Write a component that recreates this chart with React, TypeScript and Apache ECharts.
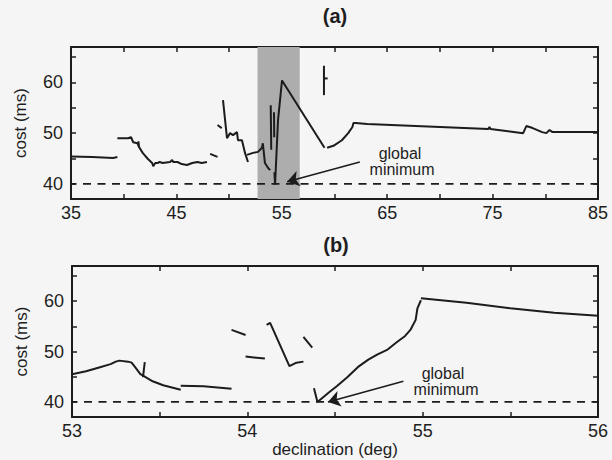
import React, { useEffect, useRef } from "react";
import * as echarts from "echarts";

// ---------- data ----------
// panel (a): declination 35..85
const aXTicks = [35, 40, 45, 50, 55, 60, 65, 70, 75, 80, 85];
const aXLabels = [35, 45, 55, 65, 75, 85];
const yTicks = [40, 45, 50, 55, 60, 65];
const yLabels = [40, 50, 60];
const aShade = [52.7, 56.7];
const aSeg1 = [[35.0, 45.4], [37.0, 45.3], [39.0, 45.1], [39.4, 45.3]];
const aSeg2 = [[39.4, 49.0], [40.4, 49.0], [40.7, 49.2], [40.9, 48.2], [41.3, 48.0], [41.5, 47.1], [41.8, 46.1], [42.3, 44.9], [42.7, 44.1], [42.8, 43.5], [43.0, 44.1], [43.2, 44.1], [43.4, 44.3], [43.7, 44.1], [44.4, 44.3], [44.6, 44.7], [44.7, 44.3], [45.1, 44.3], [45.5, 43.9], [46.0, 43.7], [46.5, 44.1], [47.0, 44.3], [47.4, 44.1], [47.9, 44.3]];
const aSeg2b = [[41.4, 48.4], [41.45, 47.2]];
const aSeg3 = [[48.2, 45.9], [48.9, 45.3]];
const aSeg4 = [[48.9, 51.6], [49.3, 51.0]];
const aSeg5 = [[49.42, 56.5], [49.8, 49.0], [50.09, 50.0], [50.37, 49.6], [50.75, 50.2], [50.84, 48.6], [51.22, 48.6], [51.51, 46.1], [51.79, 44.3]];
const aSeg6 = [[51.7, 45.7], [52.27, 46.1], [52.74, 46.3], [53.12, 47.1], [53.2, 48.0], [53.4, 44.1], [53.7, 43.1], [53.9, 42.7]];
const aSeg7 = [[53.95, 55.5], [54.0, 46.7]];
const aSeg8 = [[54.26, 54.1], [54.28, 49.2]];
const aSeg9 = [[54.3, 42.3], [54.36, 39.8], [54.64, 52.5], [55.02, 60.4], [58.9, 47.6], [59.05, 47.1]];
const aSeg10 = [[59.0, 63.3], [59.0, 57.5]];
const aSeg10b = [[59.0, 60.8], [59.35, 60.8]];
const aSeg11 = [[59.3, 47.1], [59.9, 47.5], [60.7, 48.6], [61.3, 50.0], [61.7, 51.2], [61.8, 52.0], [62.0, 52.0], [63.1, 51.8], [74.6, 50.8], [74.7, 51.2], [74.8, 50.8], [77.9, 50.0], [78.2, 51.4], [78.8, 51.0], [79.7, 50.2], [80.1, 50.0], [80.4, 50.6], [80.7, 50.2], [85.0, 50.2]];
const aMinimum = 40;
const aArrow = [[62.4, 44.3], [55.5, 40.4]];

// panel (b): declination 53..56
const bXTicks = [53, 53.5, 54, 54.5, 55, 55.5, 56];
const bXLabels = [53, 54, 55, 56];
const bSeg1 = [[53.0, 45.5], [53.08, 46.1], [53.16, 46.9], [53.22, 47.5], [53.25, 48.0], [53.27, 48.2], [53.32, 48.0], [53.34, 47.8], [53.36, 46.9], [53.39, 45.5], [53.41, 45.1], [53.46, 44.1], [53.52, 43.3], [53.62, 42.4]];
const bSeg1b = [[53.405, 44.9], [53.415, 47.9]];
const bSeg2 = [[53.62, 43.2], [53.75, 43.1], [53.91, 42.6]];
const bSeg3 = [[53.91, 54.3], [53.99, 53.3]];
const bSeg4 = [[53.99, 49.0], [54.10, 48.6]];
const bSeg5 = [[54.11, 55.3], [54.13, 55.7], [54.24, 47.1], [54.28, 47.8], [54.32, 48.0]];
const bSeg6 = [[54.32, 52.9], [54.37, 50.8]];
const bSeg7 = [[54.38, 42.7], [54.40, 40.0], [54.47, 42.0], [54.51, 43.1], [54.57, 44.9], [54.63, 46.9], [54.69, 48.4], [54.74, 49.4], [54.80, 50.4], [54.85, 51.8], [54.90, 53.1], [54.93, 54.3], [54.96, 56.3], [54.97, 58.6], [54.99, 60.2]];
const bSeg8 = [[54.99, 60.6], [55.25, 59.7], [55.5, 58.6], [55.75, 57.7], [56.0, 57.1]];
const bMinimum = 40;
const bArrow = [[54.89, 44.1], [54.46, 40.0]];

const INK = "#1c1c1c";
const TXT = "#1e1e1e";
const FONT = "Liberation Sans";

function seg(data: number[][], k: number): any {
  return {
    type: "line",
    data,
    xAxisIndex: k * 2,
    yAxisIndex: k * 2,
    symbol: "none",
    showSymbol: false,
    silent: true,
    z: 3,
    lineStyle: { color: INK, width: 2 },
  };
}

function xAxes(min: number, max: number, ticks: number[], labels: number[], grid: number, withName: boolean): any[] {
  const common = {
    type: "value",
    gridIndex: grid,
    min,
    max,
    splitLine: { show: false },
    axisLine: { show: true, lineStyle: { color: INK, width: 2 } },
    axisTick: { show: true, inside: true, length: 5, customValues: ticks, lineStyle: { color: INK, width: 1.5 } },
  };
  return [
    {
      ...common,
      position: "bottom",
      axisLabel: { show: true, customValues: labels, margin: 5, color: TXT, fontSize: 18, fontFamily: FONT },
      ...(withName
        ? {
            name: "declination (deg)",
            nameLocation: "middle",
            nameGap: 24,
            nameTextStyle: { color: TXT, fontSize: 17, fontFamily: FONT },
          }
        : {}),
    },
    { ...common, position: "top", axisLabel: { show: false } },
  ];
}

function yAxes(grid: number): any[] {
  const common = {
    type: "value",
    gridIndex: grid,
    min: 37,
    max: 67,
    splitLine: { show: false },
    axisLine: { show: true, lineStyle: { color: INK, width: 2 } },
    axisTick: { show: true, inside: true, length: 5, customValues: yTicks, lineStyle: { color: INK, width: 1.5 } },
  };
  return [
    {
      ...common,
      position: "left",
      axisLabel: { show: true, customValues: yLabels, margin: 8, color: TXT, fontSize: 18, fontFamily: FONT },
      name: "cost (ms)",
      nameLocation: "middle",
      nameGap: 42,
      nameTextStyle: { color: TXT, fontSize: 17, fontFamily: FONT },
    },
    { ...common, position: "right", axisLabel: { show: false } },
  ];
}

function arrowSeries(k: number, arrow: number[][]): any {
  return {
    type: "line",
    data: [],
    xAxisIndex: k * 2,
    yAxisIndex: k * 2,
    silent: true,
    z: 4,
    markLine: {
      silent: true,
      symbol: ["none", "arrow"],
      symbolSize: 12,
      label: { show: false },
      itemStyle: { color: INK },
      lineStyle: { type: "solid", color: INK, width: 1.6 },
      emphasis: { disabled: true },
      data: [[{ coord: arrow[0] }, { coord: arrow[1] }]],
    },
  };
}

function dashed(k: number, xmin: number, xmax: number, y: number): any {
  return {
    type: "line",
    data: [[xmin, y], [xmax, y]],
    xAxisIndex: k * 2,
    yAxisIndex: k * 2,
    symbol: "none",
    silent: true,
    z: 3,
    lineStyle: { color: INK, width: 1.8, type: [8, 6.5], dashOffset: -12 },
  };
}

function textEl(text: string, x: number, y: number, size: number, weight: string): any {
  return {
    type: "text",
    x,
    y,
    silent: true,
    style: {
      text,
      fill: TXT,
      fontSize: size,
      fontFamily: FONT,
      fontWeight: weight,
      textAlign: "center",
      textVerticalAlign: "middle",
      align: "center",
      verticalAlign: "middle",
    },
  };
}

export default function App() {
  const ref = useRef<HTMLDivElement>(null);
  useEffect(() => {
    if (!ref.current) return;
    const chart = echarts.init(ref.current, null, { renderer: "svg" });
    const option: any = {
      animation: false,
      backgroundColor: "#f5f5f5",
      grid: [
        { left: 71, right: 14, top: 47, height: 152 },
        { left: 72, right: 14, top: 266, height: 151 },
      ],
      xAxis: [
        ...xAxes(35, 85, aXTicks, aXLabels, 0, false),
        ...xAxes(53, 56, bXTicks, bXLabels, 1, true),
      ],
      yAxis: [...yAxes(0), ...yAxes(1)],
      graphic: [
        textEl("(a)", 335, 16, 20, "bold"),
        textEl("(b)", 336, 245, 20, "bold"),
        textEl("global", 400, 153, 16, "normal"),
        textEl("minimum", 402, 169, 16, "normal"),
        textEl("global", 443, 373, 16, "normal"),
        textEl("minimum", 446, 389, 16, "normal"),
      ],
      series: [
        {
          type: "line",
          data: [],
          xAxisIndex: 0,
          yAxisIndex: 0,
          silent: true,
          z: 1,
          markArea: {
            silent: true,
            itemStyle: { color: "#adadad" },
            emphasis: { disabled: true },
            data: [[{ xAxis: aShade[0] }, { xAxis: aShade[1] }]],
          },
        },
        dashed(0, 35, 85, aMinimum),
        seg(aSeg1, 0),
        seg(aSeg2, 0),
        seg(aSeg2b, 0),
        seg(aSeg3, 0),
        seg(aSeg4, 0),
        seg(aSeg5, 0),
        seg(aSeg6, 0),
        seg(aSeg7, 0),
        seg(aSeg8, 0),
        seg(aSeg9, 0),
        seg(aSeg10, 0),
        seg(aSeg10b, 0),
        seg(aSeg11, 0),
        arrowSeries(0, aArrow),
        dashed(1, 53, 56, bMinimum),
        seg(bSeg1, 1),
        seg(bSeg1b, 1),
        seg(bSeg2, 1),
        seg(bSeg3, 1),
        seg(bSeg4, 1),
        seg(bSeg5, 1),
        seg(bSeg6, 1),
        seg(bSeg7, 1),
        seg(bSeg8, 1),
        arrowSeries(1, bArrow),
      ],
    };
    chart.setOption(option);
    return () => chart.dispose();
  }, []);
  return (
    <div
      ref={ref}
      style={{ position: "absolute", left: 0, top: 0, width: 612, height: 460 }}
    />
  );
}
